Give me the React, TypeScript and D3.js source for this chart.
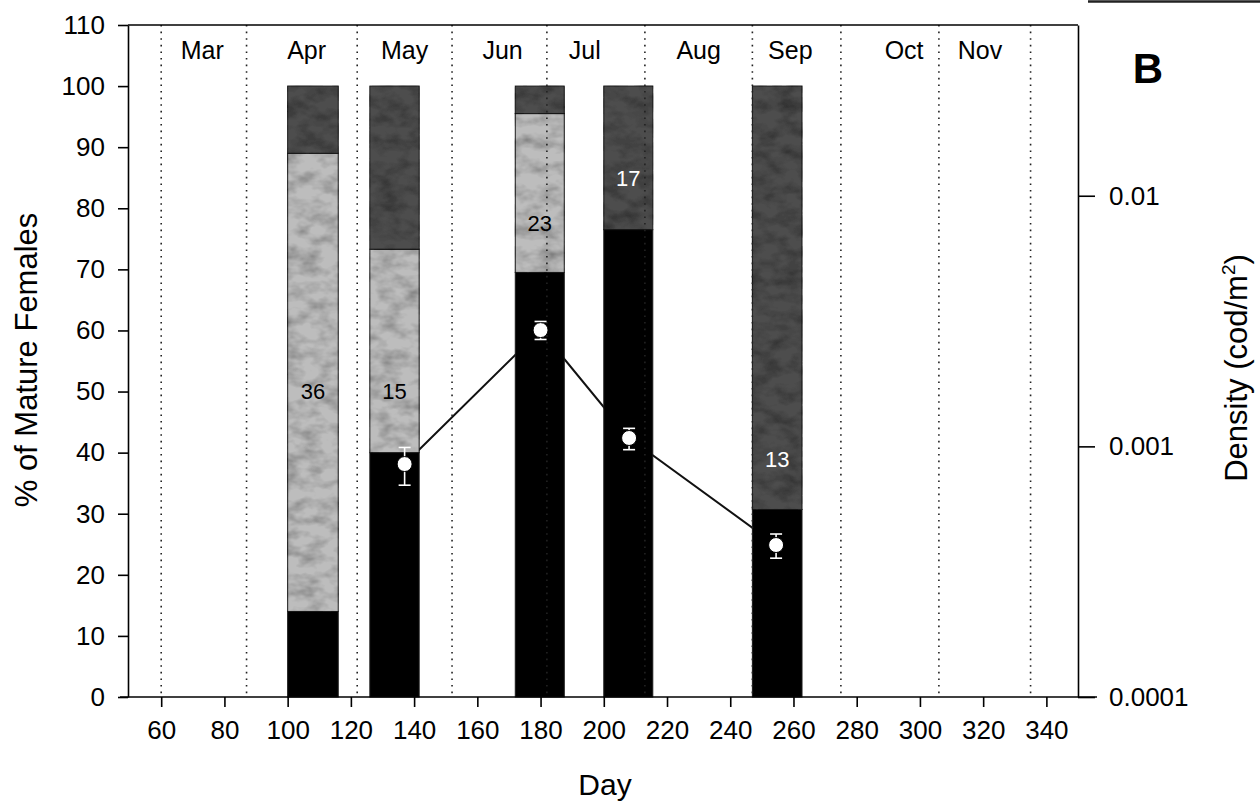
import { useEffect, useRef } from "react";
import {
    select,
    scaleLinear,
    scaleLog,
    axisLeft,
    axisBottom,
    axisRight,
    line,
    stack,
} from "d3";

// axis ticks
const dayTicks = [60, 80, 100, 120, 140, 160, 180, 200, 220, 240, 260, 280, 300, 320, 340];
const pctTicks = [0, 10, 20, 30, 40, 50, 60, 70, 80, 90, 100, 110];
const densityTicks = [0.0001, 0.001, 0.01];
const densityTickLabels = ["0.0001", "0.001", "0.01"];

// months (dotted dividers + labels, in day of year)
const monthDividers = [60, 87, 122, 152, 182, 213, 247, 275, 306, 335];
const monthNames = ["Mar", "Apr", "May", "Jun", "Jul", "Aug", "Sep", "Oct", "Nov"];
const monthLabelDays = [73, 106, 137, 168, 194, 230, 259, 295, 319];

// maturity bars (% of mature females per stage)
const barStart = [100, 126, 172, 200, 247];
const barEnd = [116, 141.6, 187.5, 215.5, 262.7];
const blackPct = [14, 40, 69.5, 76.5, 30.7];
const lightPct = [75, 33.3, 26, 0, 0];
const darkPct = [11, 26.7, 4.5, 23.5, 69.3];
const sampleSize = ["36", "15", "23", "17", "13"];
const sampleLabelAt = [50, 50, 77.5, 85, 39];

// density (cod/m2), mean and error bars
const densityDay = [137, 180, 208, 254.5];
const densityMean = [0.00085, 0.00291, 0.00108, 0.000404];
const densityUpper = [0.00099, 0.00315, 0.00118, 0.000447];
const densityLower = [0.0007, 0.00267, 0.00097, 0.000358];

const FONT = "'Liberation Sans', Arial, sans-serif";

function MaturityChart() {
    const svgRef = useRef<SVGSVGElement>(null);

    useEffect(() => {
        document.body.style.margin = "0";
        const Width = 1260;
        const Height = 801;
        const plot = { left: 128, right: 1078, top: 25, bottom: 697 };

        const svg = select(svgRef.current)
            .attr("width", Width)
            .attr("height", Height);
        svg.selectAll("*").remove();

        svg.append("rect")
            .attr("width", Width)
            .attr("height", Height)
            .attr("fill", "#fff");

        const xScale = scaleLinear().domain([49.5, 350]).range([plot.left, plot.right]);
        const yScale = scaleLinear().domain([0, 110]).range([plot.bottom, plot.top]);
        const densityScale = scaleLog().domain([0.0001, 0.048]).range([plot.bottom, plot.top]);

        // mottled texture for the grey stages
        const filter = svg
            .append("defs")
            .append("filter")
            .attr("id", "mottle")
            .attr("x", -0.1)
            .attr("y", -0.02)
            .attr("width", 1.2)
            .attr("height", 1.04);
        filter.append("feTurbulence")
            .attr("type", "fractalNoise")
            .attr("baseFrequency", "0.05 0.08")
            .attr("numOctaves", 3)
            .attr("seed", 7)
            .attr("result", "noise");
        filter.append("feColorMatrix")
            .attr("in", "noise")
            .attr("type", "matrix")
            .attr("values", "0 0 0 0 0  0 0 0 0 0  0 0 0 0 0  1.1 0 0 0 -0.42")
            .attr("result", "spots");
        filter.append("feComposite")
            .attr("in", "spots")
            .attr("in2", "SourceGraphic")
            .attr("operator", "in")
            .attr("result", "clipped");
        const merge = filter.append("feMerge");
        merge.append("feMergeNode").attr("in", "SourceGraphic");
        merge.append("feMergeNode").attr("in", "clipped");

        // density line (sits behind the bars)
        const densityLine = line<number>()
            .x((_, i) => xScale(densityDay[i]))
            .y((d) => densityScale(d));

        svg.append("path")
            .datum(densityMean)
            .attr("d", densityLine)
            .attr("fill", "none")
            .attr("stroke", "#111")
            .attr("stroke-width", 2);

        // stacked bars
        const rows = barStart.map((_, i) => ({
            black: blackPct[i],
            light: lightPct[i],
            dark: darkPct[i],
        }));
        const layers = stack<any>().keys(["black", "light", "dark"])(rows);
        const fills: Record<string, string> = { black: "#000", light: "#bdbdbd", dark: "#4e4e4e" };

        layers.forEach((layer) => {
            svg.append("g")
                .selectAll("rect")
                .data(layer.filter((d) => d[1] > d[0]).map((d) => ({ d, i: layer.indexOf(d) })))
                .join("rect")
                .attr("x", (v) => xScale(barStart[v.i]))
                .attr("width", (v) => xScale(barEnd[v.i]) - xScale(barStart[v.i]))
                .attr("y", (v) => yScale(v.d[1]))
                .attr("height", (v) => yScale(v.d[0]) - yScale(v.d[1]))
                .attr("fill", fills[layer.key])
                .attr("filter", layer.key === "black" ? null : "url(#mottle)")
                .attr("stroke", "#1a1a1a")
                .attr("stroke-width", 1);
        });

        // month dividers
        svg.append("g")
            .selectAll("line")
            .data(monthDividers)
            .join("line")
            .attr("x1", (d) => xScale(d))
            .attr("x2", (d) => xScale(d))
            .attr("y1", plot.top)
            .attr("y2", plot.bottom)
            .attr("stroke", "#222")
            .attr("stroke-width", 1.6)
            .attr("stroke-dasharray", "1.6 5");

        svg.append("g")
            .selectAll("text")
            .data(monthNames)
            .join("text")
            .attr("x", (_, i) => xScale(monthLabelDays[i]))
            .attr("y", 59)
            .attr("text-anchor", "middle")
            .attr("font-size", 25)
            .text((d) => d);

        // sample sizes
        svg.append("g")
            .selectAll("text")
            .data(sampleSize)
            .join("text")
            .attr("x", (_, i) => xScale((barStart[i] + barEnd[i]) / 2))
            .attr("y", (_, i) => yScale(sampleLabelAt[i]))
            .attr("dy", "0.36em")
            .attr("text-anchor", "middle")
            .attr("font-size", 22)
            .attr("fill", (_, i) => (sampleLabelAt[i] > blackPct[i] + lightPct[i] ? "#fff" : "#000"))
            .text((d) => d);

        // error bars + points
        const errs = svg.append("g").attr("stroke", "#fff").attr("stroke-width", 1.6);
        densityDay.forEach((day, i) => {
            const cx = xScale(day);
            errs.append("line")
                .attr("x1", cx).attr("x2", cx)
                .attr("y1", densityScale(densityUpper[i]))
                .attr("y2", densityScale(densityLower[i]));
            [densityUpper[i], densityLower[i]].forEach((v) => {
                errs.append("line")
                    .attr("x1", cx - 6).attr("x2", cx + 6)
                    .attr("y1", densityScale(v)).attr("y2", densityScale(v));
            });
        });

        svg.append("g")
            .selectAll("circle")
            .data(densityMean)
            .join("circle")
            .attr("cx", (_, i) => xScale(densityDay[i]))
            .attr("cy", (d) => densityScale(d))
            .attr("r", 7.5)
            .attr("fill", "#fff")
            .attr("stroke", "#000")
            .attr("stroke-width", 1);

        // axes
        const yAxis = svg.append("g")
            .attr("transform", `translate(${plot.left},0)`)
            .call(axisLeft(yScale).tickValues(pctTicks).tickSize(10).tickPadding(13).tickSizeOuter(0));

        const xAxis = svg.append("g")
            .attr("transform", `translate(0,${plot.bottom})`)
            .call(axisBottom(xScale).tickValues(dayTicks).tickFormat((d) => String(d)).tickSize(10).tickPadding(14));
        xAxis.select(".domain").remove();

        const rAxis = svg.append("g")
            .attr("transform", `translate(${plot.right},0)`)
            .call(
                axisRight(densityScale)
                    .tickValues(densityTicks)
                    .tickFormat((_, i) => densityTickLabels[i])
                    .tickSize(17)
                    .tickPadding(14)
                    .tickSizeOuter(0)
            );

        [yAxis, xAxis, rAxis].forEach((ax) => {
            ax.selectAll("line, path").attr("stroke", "#000").attr("stroke-width", 1.6);
            ax.selectAll("text").attr("fill", "#000").attr("font-size", 26).attr("font-family", FONT);
        });

        // frame: top border + baseline
        svg.append("line")
            .attr("x1", plot.left).attr("x2", plot.right)
            .attr("y1", plot.top).attr("y2", plot.top)
            .attr("stroke", "#000").attr("stroke-width", 1.6);
        svg.append("line")
            .attr("x1", 120).attr("x2", 1097)
            .attr("y1", plot.bottom).attr("y2", plot.bottom)
            .attr("stroke", "#000").attr("stroke-width", 1.6);

        // stray rule from the neighbouring panel
        svg.append("line")
            .attr("x1", 1088).attr("x2", Width)
            .attr("y1", 1.5).attr("y2", 1.5)
            .attr("stroke", "#222").attr("stroke-width", 2.5);

        // titles
        svg.append("text")
            .attr("x", 605)
            .attr("y", 795)
            .attr("text-anchor", "middle")
            .attr("font-size", 30)
            .text("Day");

        svg.append("text")
            .attr("transform", "translate(37,360) rotate(-90)")
            .attr("text-anchor", "middle")
            .attr("font-size", 31)
            .text("% of Mature Females");

        const dens = svg.append("text")
            .attr("transform", "translate(1247,368) rotate(-90)")
            .attr("text-anchor", "middle")
            .attr("font-size", 31);
        dens.append("tspan").text("Density (cod/m");
        dens.append("tspan").attr("font-size", 19).attr("dy", -12).text("2");
        dens.append("tspan").attr("dy", 12).text(")");

        svg.append("text")
            .attr("x", 1148)
            .attr("y", 83)
            .attr("text-anchor", "middle")
            .attr("font-size", 42)
            .attr("font-weight", "bold")
            .text("B");

        svg.selectAll("text").attr("font-family", FONT);
    }, []);

    return <svg ref={svgRef} style={{ display: "block" }}></svg>;
}

export default function App() {
    return <MaturityChart />;
}
